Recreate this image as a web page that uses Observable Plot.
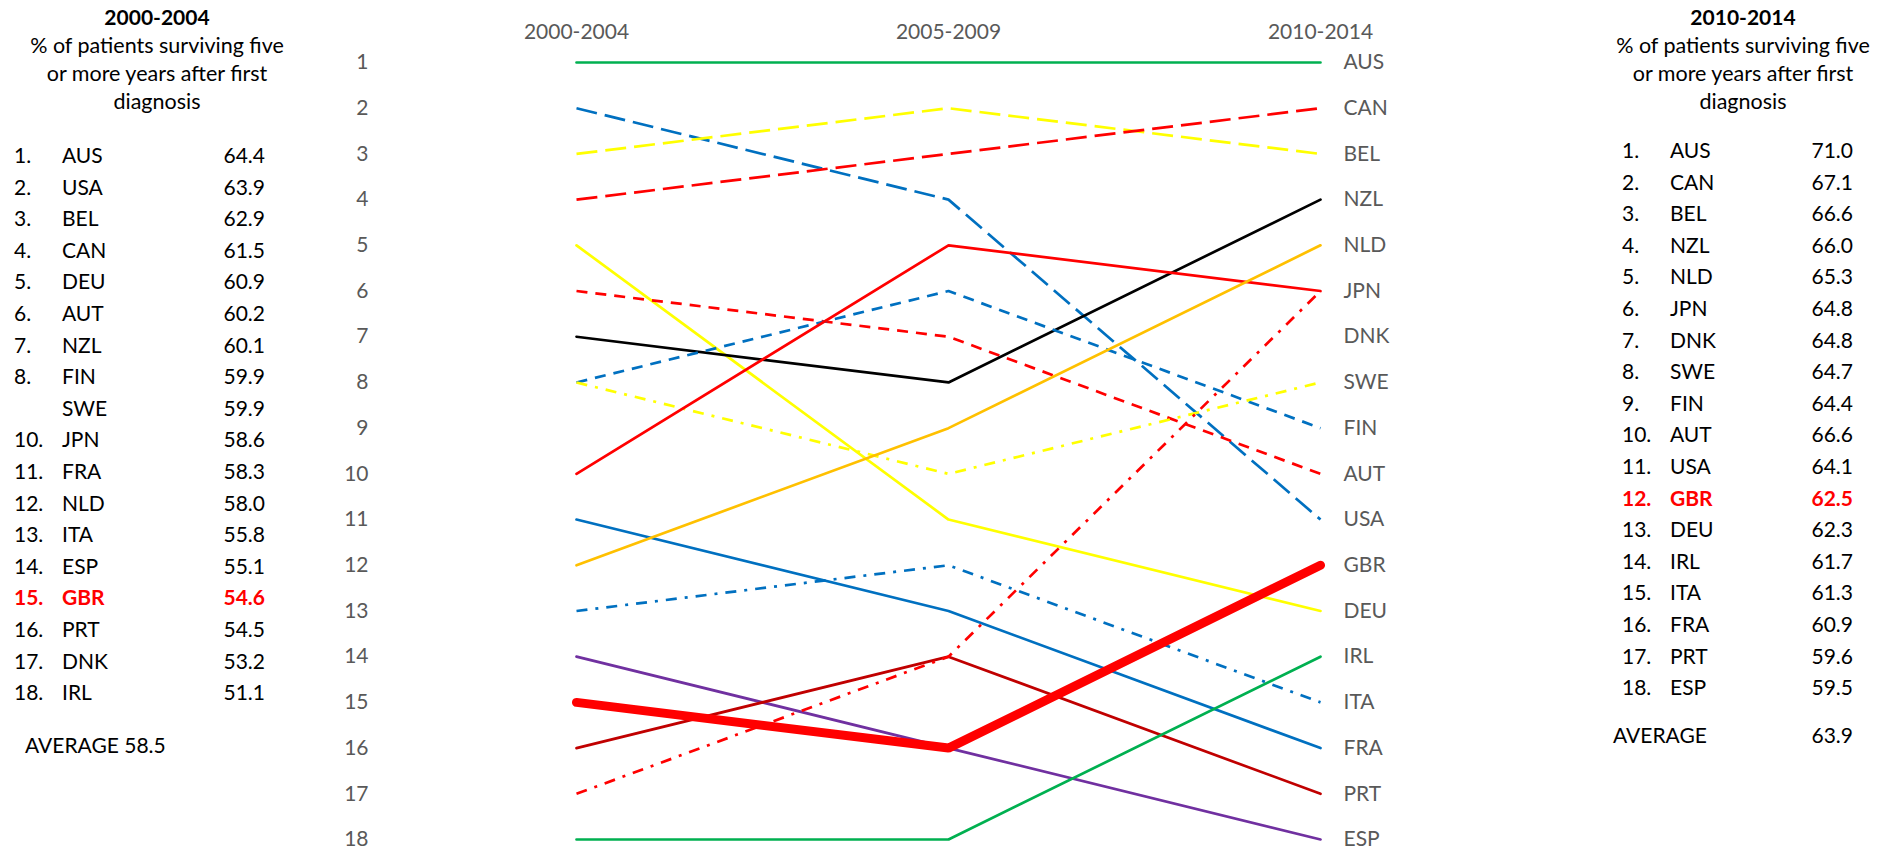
<!DOCTYPE html>
<html>
<head>
<meta charset="utf-8">
<script src="https://cdn.jsdelivr.net/npm/d3@7"></script>
<script src="https://cdn.jsdelivr.net/npm/@observablehq/plot@0.6"></script>
<style>
  html, body { margin: 0; padding: 0; background: #fff; }
  #wrap { position: relative; width: 1892px; height: 851px; font-family: Lato, "Noto Sans", sans-serif; color: #000; }
  #chart { position: absolute; left: 330px; top: 0; }
  .panel-title { position: absolute; text-align: center; font-size: 21.5px; line-height: 28px; }
  .panel-title b { font-weight: 700; font-size: 21px; }
  .cell { position: absolute; font-size: 21px; line-height: 30px; height: 30px; white-space: nowrap; }
  .red { color: #FF0000; font-weight: 700; }
</style>
</head>
<body>
<div id="wrap">
  <div id="left"></div>
  <div id="chart"></div>
  <div id="right"></div>
</div>
<script>
// ---------- data ----------
const periods = ["2000-2004", "2005-2009", "2010-2014"];
const countries = ["AUS","USA","BEL","CAN","DEU","AUT","NZL","FIN","SWE","JPN","FRA","NLD","ITA","ESP","GBR","PRT","DNK","IRL"];
const rank2000 = [1, 2, 3, 4, 5, 6, 7, 8, 8, 10, 11, 12, 13, 14, 15, 16, 17, 18];
const rank2005 = [1, 4, 2, 3, 11, 7, 8, 6, 10, 5, 13, 9, 12, 16, 16, 14, 14, 18];
const rank2010 = [1, 11, 3, 2, 13, 10, 4, 9, 8, 6, 16, 5, 15, 18, 12, 17, 6, 14];
const rankTicks = [1,2,3,4,5,6,7,8,9,10,11,12,13,14,15,16,17,18];
const labels2010 = ["AUS","CAN","BEL","NZL","NLD","JPN","DNK","SWE","FIN","AUT","USA","GBR","DEU","IRL","ITA","FRA","PRT","ESP"];

// left table (2000-2004)
const tableRanks2000 = ["1.","2.","3.","4.","5.","6.","7.","8.","","10.","11.","12.","13.","14.","15.","16.","17.","18."];
const tableCodes2000 = ["AUS","USA","BEL","CAN","DEU","AUT","NZL","FIN","SWE","JPN","FRA","NLD","ITA","ESP","GBR","PRT","DNK","IRL"];
const tableValues2000 = ["64.4","63.9","62.9","61.5","60.9","60.2","60.1","59.9","59.9","58.6","58.3","58.0","55.8","55.1","54.6","54.5","53.2","51.1"];
const average2000 = "58.5";

// right table (2010-2014)
const tableRanks2010 = ["1.","2.","3.","4.","5.","6.","7.","8.","9.","10.","11.","12.","13.","14.","15.","16.","17.","18."];
const tableCodes2010 = ["AUS","CAN","BEL","NZL","NLD","JPN","DNK","SWE","FIN","AUT","USA","GBR","DEU","IRL","ITA","FRA","PRT","ESP"];
const tableValues2010 = ["71.0","67.1","66.6","66.0","65.3","64.8","64.8","64.7","64.4","66.6","64.1","62.5","62.3","61.7","61.3","60.9","59.6","59.5"];
const average2010 = "63.9";

const subtitle = ["% of patients surviving five", "or more years after first", "diagnosis"];
const highlight = "GBR";

// ---------- styles (kept separate from data) ----------
const GREEN = "#00B050", BLUE = "#0070C0", YELLOW = "#FFFF00", RED = "#FF0000",
      ORANGE = "#FFC000", PURPLE = "#7030A0", DARKRED = "#C00000", BLACK = "#000000";
const LONG = "21,8", DASH = "11,8", DASHDOT = "11,8,3,8";
const seriesStyle = {
  AUS: {stroke: GREEN}, USA: {stroke: BLUE, dash: LONG}, BEL: {stroke: YELLOW, dash: LONG},
  CAN: {stroke: RED, dash: LONG}, DEU: {stroke: YELLOW}, AUT: {stroke: RED, dash: DASH},
  NZL: {stroke: BLACK}, FIN: {stroke: BLUE, dash: DASH}, SWE: {stroke: YELLOW, dash: DASHDOT},
  JPN: {stroke: RED}, FRA: {stroke: BLUE}, NLD: {stroke: ORANGE}, ITA: {stroke: BLUE, dash: DASHDOT},
  ESP: {stroke: PURPLE}, GBR: {stroke: RED, width: 9}, PRT: {stroke: DARKRED},
  DNK: {stroke: RED, dash: DASHDOT}, IRL: {stroke: GREEN}
};

// ---------- chart ----------
const rows = countries.flatMap((c, i) =>
  [rank2000[i], rank2005[i], rank2010[i]].map((r, j) => ({country: c, period: periods[j], rank: r})));

const order = countries.filter(c => c !== highlight).concat([highlight]);
const lineMarks = order.map(c => {
  const s = seriesStyle[c];
  return Plot.line(rows.filter(d => d.country === c), {
    x: "period", y: "rank",
    stroke: s.stroke,
    strokeWidth: s.width || 2.7,
    strokeDasharray: s.dash || null,
    strokeLinecap: s.dash ? "butt" : "round",
    strokeLinejoin: "miter"
  });
});

const chart = Plot.plot({
  width: 1250,
  height: 851,
  marginLeft: 245,
  marginRight: 260,
  marginTop: 62,
  marginBottom: 12,
  x: {type: "point", domain: periods, padding: 0},
  y: {domain: [1, 18], reverse: true},
  style: {fontFamily: "Lato, 'Noto Sans', sans-serif", fontSize: "21px", color: "#595959", background: "transparent"},
  marks: [
    Plot.axisX({anchor: "top", tickSize: 0, tickPadding: 24, label: null}),
    Plot.axisY({anchor: "left", ticks: rankTicks, tickSize: 0, tickPadding: 207, label: null, tickFormat: d => String(d)}),
    Plot.axisY({anchor: "right", ticks: rankTicks, tickSize: 0, tickPadding: 23, label: null, tickFormat: d => labels2010[d - 1]}),
    ...lineMarks
  ]
});
document.getElementById("chart").appendChild(chart);

// ---------- side tables (HTML) ----------
function buildPanel(el, cfg) {
  const t = document.createElement("div");
  t.className = "panel-title";
  t.style.left = cfg.titleLeft + "px";
  t.style.width = cfg.titleWidth + "px";
  t.style.top = "3px";
  t.innerHTML = "<b>" + cfg.title + "</b><br>" + subtitle.join("<br>");
  el.appendChild(t);
  cfg.codes.forEach((code, i) => {
    const y = cfg.rowTop + i * 31.6 - 15;
    const cls = code === highlight ? "cell red" : "cell";
    const a = document.createElement("div"); a.className = cls; a.style.left = cfg.rankX + "px"; a.style.top = y + "px"; a.textContent = cfg.ranks[i];
    const b = document.createElement("div"); b.className = cls; b.style.left = cfg.codeX + "px"; b.style.top = y + "px"; b.textContent = code;
    const v = document.createElement("div"); v.className = cls; v.style.left = (cfg.valueRight - 80) + "px"; v.style.width = "80px"; v.style.textAlign = "right"; v.style.top = y + "px"; v.textContent = cfg.values[i];
    el.append(a, b, v);
  });
  cfg.avg(el);
}

buildPanel(document.getElementById("left"), {
  title: "2000-2004", titleLeft: 0, titleWidth: 314,
  ranks: tableRanks2000, codes: tableCodes2000, values: tableValues2000,
  rankX: 14, codeX: 62, valueRight: 265, rowTop: 155,
  avg: el => {
    const d = document.createElement("div"); d.className = "cell"; d.style.left = "25px"; d.style.top = (745 - 15) + "px";
    d.textContent = "AVERAGE " + average2000; el.appendChild(d);
  }
});

buildPanel(document.getElementById("right"), {
  title: "2010-2014", titleLeft: 1594, titleWidth: 298,
  ranks: tableRanks2010, codes: tableCodes2010, values: tableValues2010,
  rankX: 1622, codeX: 1670, valueRight: 1853, rowTop: 150,
  avg: el => {
    const d = document.createElement("div"); d.className = "cell"; d.style.left = "1613px"; d.style.top = (735 - 15) + "px";
    d.textContent = "AVERAGE"; el.appendChild(d);
    const v = document.createElement("div"); v.className = "cell"; v.style.left = (1853 - 80) + "px"; v.style.width = "80px"; v.style.textAlign = "right"; v.style.top = (735 - 15) + "px";
    v.textContent = average2010; el.appendChild(v);
  }
});
</script>
</body>
</html>
